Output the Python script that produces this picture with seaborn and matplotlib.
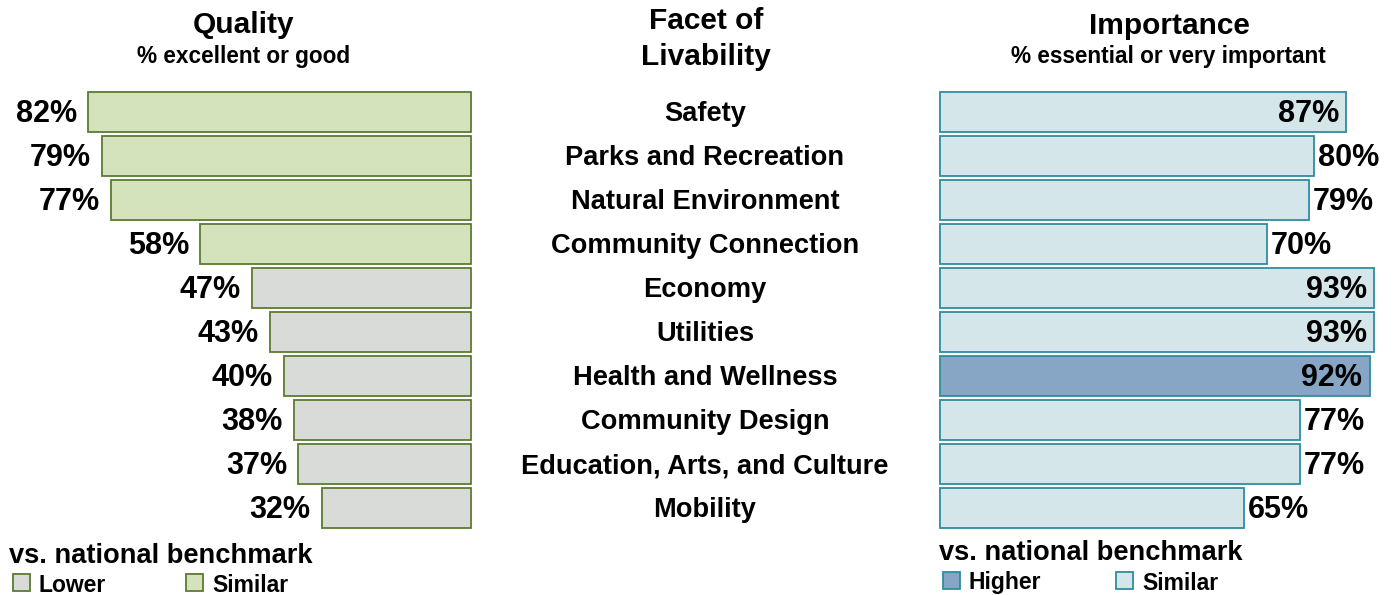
import matplotlib
matplotlib.use("Agg")
import matplotlib.pyplot as plt
from matplotlib.patches import Rectangle
import seaborn as sns
import pandas as pd

categories = ["Safety", "Parks and Recreation", "Natural Environment", "Community Connection",
              "Economy", "Utilities", "Health and Wellness", "Community Design",
              "Education, Arts, and Culture", "Mobility"]
quality = [82, 79, 77, 58, 47, 43, 40, 38, 37, 32]
quality_bench = ["Similar", "Similar", "Similar", "Similar", "Lower", "Lower", "Lower", "Lower", "Lower", "Lower"]
importance = [87, 80, 79, 70, 93, 93, 92, 77, 77, 65]
importance_bench = ["Similar", "Similar", "Similar", "Similar", "Similar", "Similar", "Higher",
                    "Similar", "Similar", "Similar"]

sns.set_theme(style="white")
plt.rcParams['font.family'] = ['Liberation Sans', 'DejaVu Sans']
plt.rcParams['text.color'] = 'black'

W, H = 1396, 595
fig = plt.figure(figsize=(W / 100, H / 100), dpi=100)

def fx(px):
    return px / W

def fy(py):
    return 1 - py / H

q_pal = {"Similar": "#d5e3bc", "Lower": "#d9dbd9"}
i_pal = {"Similar": "#d5e6eb", "Higher": "#87a6c5"}
q_edge = "#5b7b31"
i_edge = "#2f8c9e"

scale = 4.67  # px per percent
top, bottom = 90, 530

dq = pd.DataFrame({"cat": categories, "val": quality, "bench": quality_bench})
di = pd.DataFrame({"cat": categories, "val": importance, "bench": importance_bench})

# Left axis
lw_px = 469
axL = fig.add_axes([fx(471 - lw_px), fy(bottom), fx(lw_px), (bottom - top) / H])
sns.barplot(data=dq, x="val", y="cat", hue="bench", palette=q_pal, dodge=False, saturation=1,
            width=0.9, edgecolor=q_edge, linewidth=1.3, ax=axL, legend=False, orient="h")
axL.set_xlim(lw_px / scale, 0)
axL.set_ylim(len(categories) - 0.5, -0.5)
for i, v in enumerate(quality):
    axL.text(v + 2.4, i + 0.05, f"{v}%", ha="right", va="center", fontsize=22, fontweight="bold", color="black")

# Right axis
rw_px = W - 940
axR = fig.add_axes([fx(940), fy(bottom), fx(rw_px), (bottom - top) / H])
sns.barplot(data=di, x="val", y="cat", hue="bench", palette=i_pal, dodge=False, saturation=1,
            width=0.9, edgecolor=i_edge, linewidth=1.3, ax=axR, legend=False, orient="h")
axR.set_xlim(0, rw_px / scale)
axR.set_ylim(len(categories) - 0.5, -0.5)
for i, v in enumerate(importance):
    if v >= 85:
        axR.text(v - 1.6, i + 0.05, f"{v}%", ha="right", va="center", fontsize=22, fontweight="bold", color="black")
    else:
        axR.text(v + 0.9, i + 0.05, f"{v}%", ha="left", va="center", fontsize=22, fontweight="bold", color="black")

for ax in (axL, axR):
    ax.set_axis_off()
    for p in ax.patches:
        p.set_clip_on(False)

# Center category labels
for i, c in enumerate(categories):
    y = 114 + i * 44
    fig.text(fx(705), fy(y), c, ha="center", va="center", fontsize=19.6, fontweight="bold")

# Titles
fig.text(fx(244), fy(25), "Quality", ha="center", va="center", fontsize=21.5, fontweight="bold")
fig.text(fx(244), fy(56), "% excellent or good", ha="center", va="center", fontsize=16.3, fontweight="bold")
fig.text(fx(706), fy(21), "Facet of", ha="center", va="center", fontsize=21.5, fontweight="bold")
fig.text(fx(706), fy(57), "Livability", ha="center", va="center", fontsize=21.5, fontweight="bold")
fig.text(fx(1169), fy(26), "Importance", ha="center", va="center", fontsize=21.5, fontweight="bold")
fig.text(fx(1168), fy(56), "% essential or very important", ha="center", va="center", fontsize=16.3, fontweight="bold")

# Legends
def swatch(x, y, color, edge):
    fig.add_artist(Rectangle((fx(x), fy(y + 8)), fx(17), 17 / H, transform=fig.transFigure,
                             facecolor=color, edgecolor=edge, linewidth=1.3))

fig.text(fx(9), fy(556), "vs. national benchmark", ha="left", va="center", fontsize=19.6, fontweight="bold")
swatch(13, 583, q_pal["Lower"], q_edge)
fig.text(fx(39), fy(586), "Lower", ha="left", va="center", fontsize=16.5, fontweight="bold")
swatch(186, 583, q_pal["Similar"], q_edge)
fig.text(fx(212), fy(586), "Similar", ha="left", va="center", fontsize=16.5, fontweight="bold")

fig.text(fx(939), fy(553), "vs. national benchmark", ha="left", va="center", fontsize=19.6, fontweight="bold")
swatch(943, 581, i_pal["Higher"], i_edge)
fig.text(fx(969), fy(583), "Higher", ha="left", va="center", fontsize=16.5, fontweight="bold")
swatch(1116, 581, i_pal["Similar"], i_edge)
fig.text(fx(1142), fy(583), "Similar", ha="left", va="center", fontsize=16.5, fontweight="bold")

fig.savefig("out.png", dpi=100, facecolor="white")
